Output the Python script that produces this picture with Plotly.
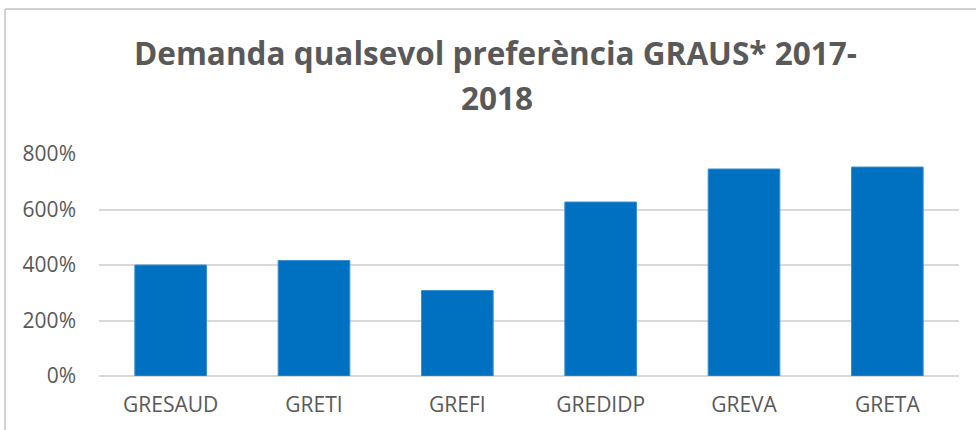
import plotly.graph_objects as go

categories = ["GRESAUD", "GRETI", "GREFI", "GREDIDP", "GREVA", "GRETA"]
values = [4.00, 4.16, 3.08, 6.27, 7.46, 7.53]
tick_vals = [0, 2, 4, 6, 8]
tick_text = ["0%", "200%", "400%", "600%", "800%"]
title_lines = ["Demanda qualsevol preferència GRAUS* 2017-", "2018"]

W, H = 976, 430
L, R, T, B = 99, 976 - 959, 154, 430 - 376
pw = W - L - R
ph = H - T - B


def px_x(x):
    return (x - L) / pw


def px_y(y):
    return ((H - B) - y) / ph


fig = go.Figure(go.Bar(
    x=categories, y=values,
    marker=dict(color="#0070C0", line=dict(color="#3D8FD1", width=1)),
))

fig.update_layout(
    width=W, height=H,
    margin=dict(l=L, r=R, t=T, b=B, pad=0),
    paper_bgcolor="white", plot_bgcolor="white",
    bargap=0.5,
    showlegend=False,
    font=dict(family="Open Sans", color="#595959", size=21),
    xaxis=dict(showgrid=False, showline=False, ticks="", ticklabelstandoff=14,
               tickfont=dict(size=21, color="#595959")),
    yaxis=dict(range=[0, 8], tickvals=tick_vals, ticktext=tick_text,
               showgrid=True, gridcolor="#D9D9D9", gridwidth=1.5,
               zeroline=True, zerolinecolor="#D9D9D9", zerolinewidth=1.5,
               showline=False, ticks="", ticklabelstandoff=22,
               tickfont=dict(size=21, color="#595959")),
    shapes=[dict(type="rect", xref="paper", yref="paper",
                 x0=px_x(5), x1=px_x(1000),
                 y0=px_y(500), y1=px_y(9),
                 line=dict(color="#A6A6A6", width=1), layer="below")],
    annotations=[
        dict(text=title_lines[0], xref="paper", yref="paper",
             x=px_x(495.5), y=px_y(52), xanchor="center", yanchor="middle",
             showarrow=False,
             font=dict(family="Open Sans", size=31.5, color="#595959", weight="bold")),
        dict(text=title_lines[1], xref="paper", yref="paper",
             x=px_x(497), y=px_y(97), xanchor="center", yanchor="middle",
             showarrow=False,
             font=dict(family="Open Sans", size=31.5, color="#595959", weight="bold")),
    ],
)

fig.write_html("out.html", post_script="document.body.style.margin='0';",
               config={"displayModeBar": False})
